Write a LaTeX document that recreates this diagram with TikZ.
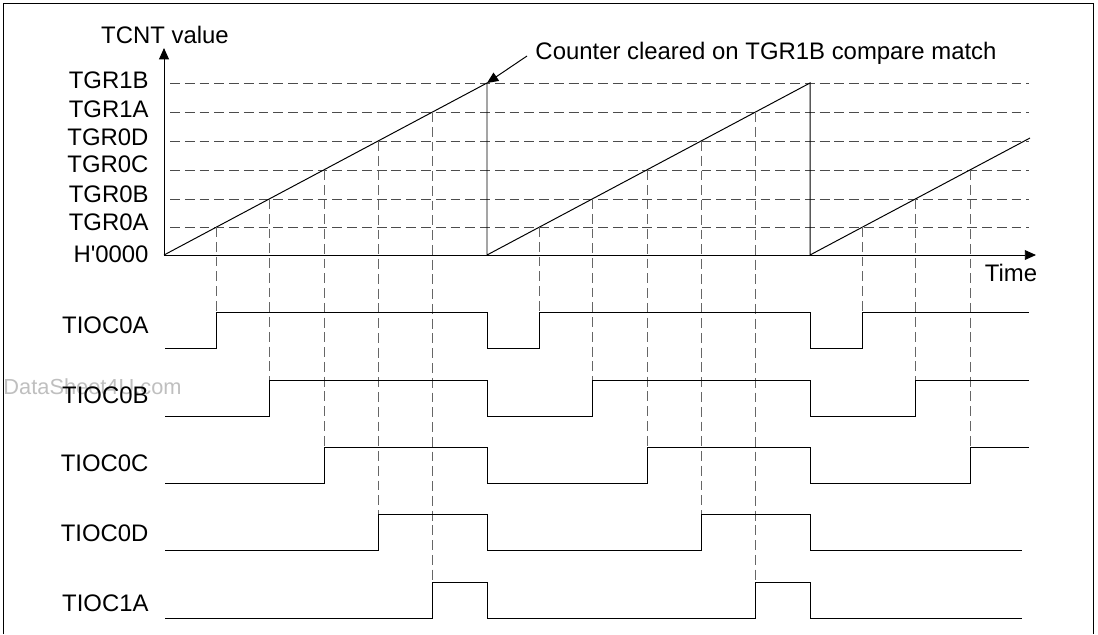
\documentclass[tikz,border=0pt]{standalone}
\usepackage{fontspec}
\setmainfont{Liberation Sans}
\usetikzlibrary{arrows.meta}

\begin{document}
\begin{tikzpicture}[x=0.025cm, y=-0.025cm, line width=0.7pt,
  font=\fontsize{17}{20}\selectfont,
  tgrline/.style={black!70, line width=0.65pt, dash pattern=on 7pt off 3.5pt},
  guideline/.style={black!60, line width=0.65pt, dash pattern=on 7pt off 3.5pt},
  waveline/.style={black, line width=0.7pt},
  reglabel/.style={anchor=east, inner sep=0pt},
  siglabel/.style={anchor=east, inner sep=0pt},
  axisarrow/.style={-{Triangle[length=8pt, width=7pt]}}]
\useasboundingbox (0,0) rectangle (1098,634);

% Frame
\draw (3,634) -- (3,3) -- (1093,3) -- (1093,634);
\node[text=black!25, inner sep=0pt, anchor=west, font=\fontsize{15.5}{18}\selectfont] (mark) at (3,387) {DataSheet4U.com};

% Axes
\coordinate (origin) at (164,255);
\coordinate (ytop) at (164,48);
\coordinate (xend) at (1036,255);
\draw[axisarrow] (origin) -- (ytop);
\draw[axisarrow] (origin) -- (xend);
\node (tcnt) at (165,35) {TCNT value};
\node (time) at (1011,273) {Time};

% Register levels
\draw[tgrline] (170,83) -- (1029,83);
\draw[tgrline] (170,112) -- (1029,112);
\draw[tgrline] (170,141) -- (1029,141);
\draw[tgrline] (170,170) -- (1029,170);
\draw[tgrline] (170,199) -- (1029,199);
\draw[tgrline] (170,227) -- (1029,227);
\node[reglabel] (r1B) at (149,80) {TGR1B};
\node[reglabel] (r1A) at (149,109) {TGR1A};
\node[reglabel] (r0D) at (149,137) {TGR0D};
\node[reglabel] (r0C) at (149,164.5) {TGR0C};
\node[reglabel] (r0B) at (149,194.5) {TGR0B};
\node[reglabel] (r0A) at (149,222.5) {TGR0A};
\node[reglabel] (r00) at (149,254.5) {H\textquotesingle 0000};

% Counter
\coordinate (peakA) at (487,83);
\coordinate (peakB) at (810,83);
\draw (origin) -- (peakA) -- (487,255) -- (peakB) -- (810,255) -- (1030,138);
\node[anchor=base west, inner sep=0pt] (note) at (535,59) {Counter cleared on TGR1B compare match};
\coordinate (notefoot) at (527,56);
\draw[axisarrow] (notefoot) -- (peakA);

% Compare match guides
\draw[guideline] (216,227) -- (216,312);
\draw[guideline] (269,199) -- (269,380);
\draw[guideline] (324,170) -- (324,447);
\draw[guideline] (378,141) -- (378,514);
\draw[guideline] (432,112) -- (432,582);
\draw[guideline] (539,227) -- (539,312);
\draw[guideline] (592,199) -- (592,380);
\draw[guideline] (647,170) -- (647,447);
\draw[guideline] (701,141) -- (701,514);
\draw[guideline] (755,112) -- (755,582);
\draw[guideline] (862,227) -- (862,312);
\draw[guideline] (915,199) -- (915,380);
\draw[guideline] (970,170) -- (970,447);

% Outputs
\draw[waveline] (165,348) -- (216,348) -- (216,312) -- (487,312) -- (487,348) -- (539,348) -- (539,312) -- (810,312) -- (810,348) -- (862,348) -- (862,312) -- (1029,312);
\draw[waveline] (165,416) -- (269,416) -- (269,380) -- (487,380) -- (487,416) -- (592,416) -- (592,380) -- (810,380) -- (810,416) -- (915,416) -- (915,380) -- (1029,380);
\draw[waveline] (165,483) -- (324,483) -- (324,447) -- (487,447) -- (487,483) -- (647,483) -- (647,447) -- (810,447) -- (810,483) -- (970,483) -- (970,447) -- (1029,447);
\draw[waveline] (165,550) -- (378,550) -- (378,514) -- (487,514) -- (487,550) -- (701,550) -- (701,514) -- (810,514) -- (810,550) -- (1022,550);
\draw[waveline] (165,618) -- (432,618) -- (432,582) -- (487,582) -- (487,618) -- (755,618) -- (755,582) -- (810,582) -- (810,618) -- (1022,618);
\node[siglabel] (s0A) at (149,325) {TIOC0A};
\node[siglabel] (s0B) at (149,395) {TIOC0B};
\node[siglabel] (s0C) at (149,463) {TIOC0C};
\node[siglabel] (s0D) at (149,533) {TIOC0D};
\node[siglabel] (s1A) at (149,603) {TIOC1A};
\end{tikzpicture}
\end{document}
